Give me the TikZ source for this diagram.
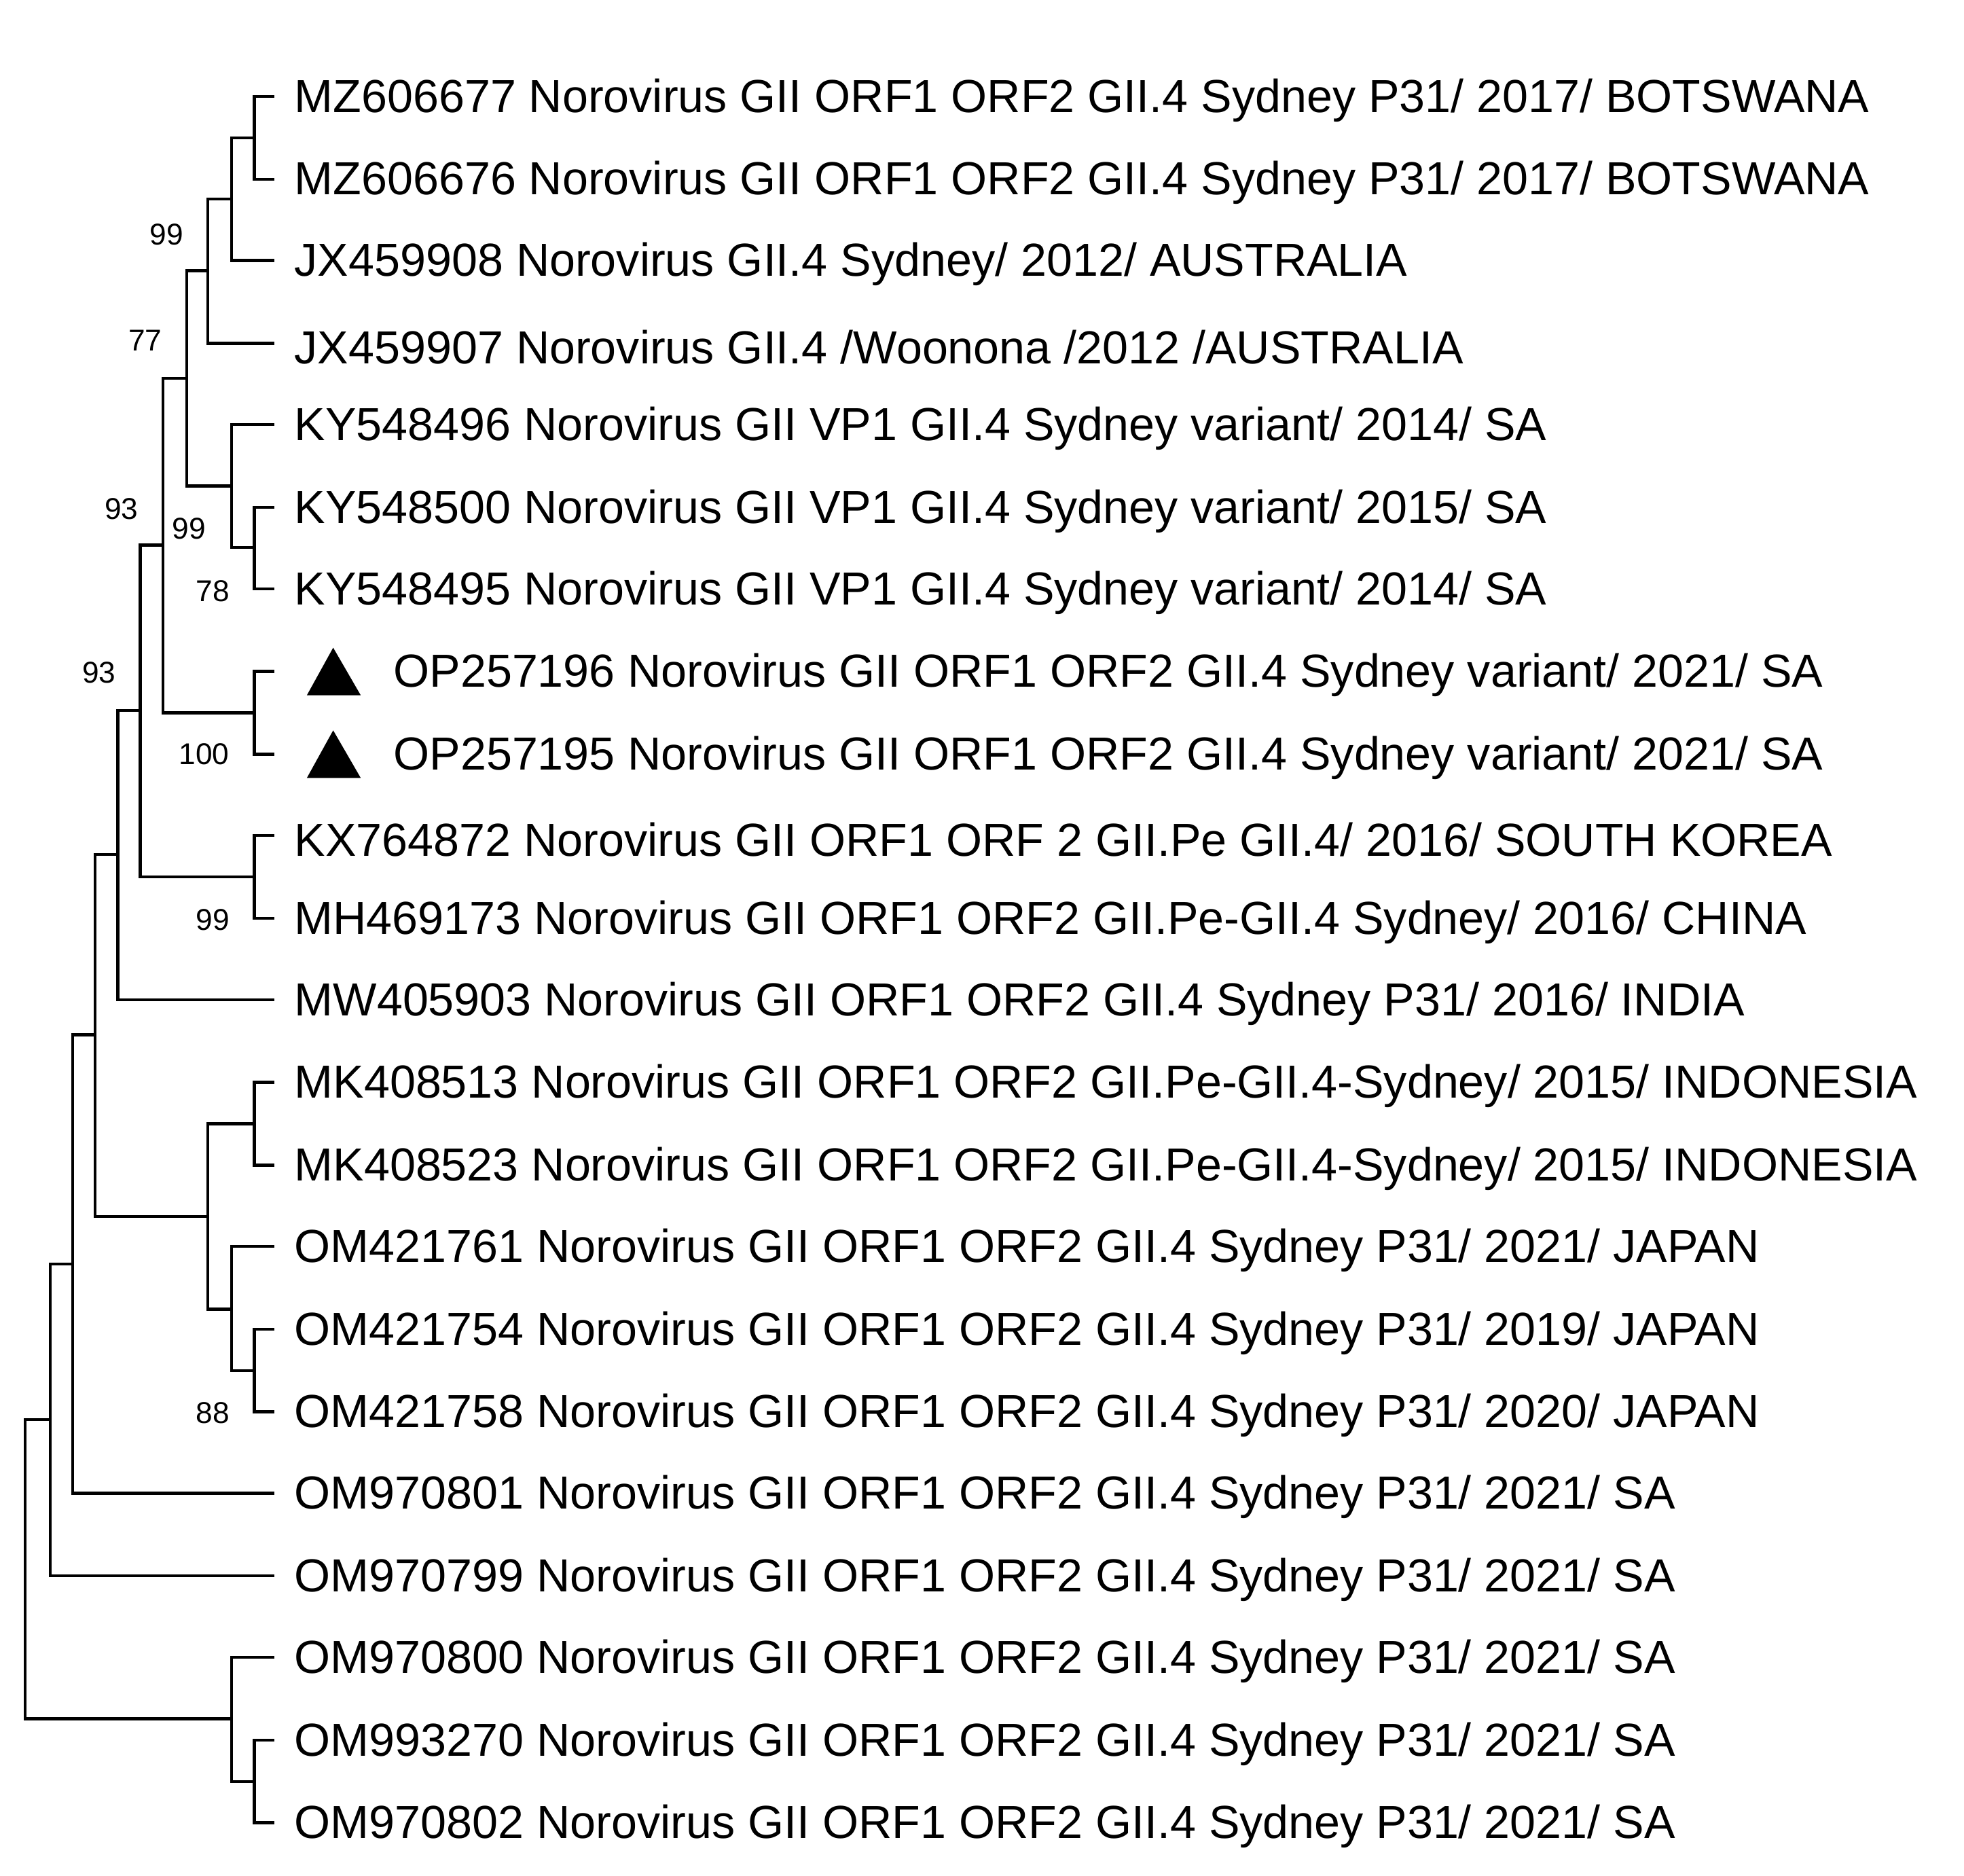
\documentclass[tikz,border=0pt]{standalone}
\usepackage{fontspec}
\setmainfont{Liberation Sans}
\begin{document}
\begin{tikzpicture}[x=1pt,y=-1pt,
  br/.style={line width=2.4pt,line cap=rect},
  leaf/.style={anchor=west,inner sep=0pt,yshift=-3pt,font=\fontsize{37}{40}\selectfont},
  bs/.style={inner sep=0pt,font=\fontsize{24}{26}\selectfont},
  tri/.style={fill=black,draw=none}]
\useasboundingbox (0,0) rectangle (1568,1497);
% leaves
\foreach \i/\y in {1/77,2/143,3/208,4/274,5/339,6/405,7/470,8/536,9/602,10/667,11/733,12/798,13/864,14/930,15/995,16/1061,17/1127,18/1192,19/1258,20/1323,21/1389,22/1455}
  \coordinate (t\i) at (218,\y);
\node[leaf] (l1) at (235,77) {MZ606677 Norovirus GII ORF1 ORF2 GII.4 Sydney P31/ 2017/ BOTSWANA};
\node[leaf] (l2) at (235,143) {MZ606676 Norovirus GII ORF1 ORF2 GII.4 Sydney P31/ 2017/ BOTSWANA};
\node[leaf] (l3) at (235,208) {JX459908 Norovirus GII.4 Sydney/ 2012/ AUSTRALIA};
\node[leaf] (l4) at (235,274) {JX459907 Norovirus GII.4 /Woonona /2012 /AUSTRALIA};
\node[leaf] (l5) at (235,339) {KY548496 Norovirus GII VP1 GII.4 Sydney variant/ 2014/ SA};
\node[leaf] (l6) at (235,405) {KY548500 Norovirus GII VP1 GII.4 Sydney variant/ 2015/ SA};
\node[leaf] (l7) at (235,470) {KY548495 Norovirus GII VP1 GII.4 Sydney variant/ 2014/ SA};
\node[leaf] (l8) at (314,536) {OP257196 Norovirus GII ORF1 ORF2 GII.4 Sydney variant/ 2021/ SA};
\node[leaf] (l9) at (314,602) {OP257195 Norovirus GII ORF1 ORF2 GII.4 Sydney variant/ 2021/ SA};
\node[leaf] (l10) at (235,667) {KX764872 Norovirus GII ORF1 ORF 2 GII.Pe GII.4/ 2016/ SOUTH KOREA};
\node[leaf] (l11) at (235,733) {MH469173 Norovirus GII ORF1 ORF2 GII.Pe-GII.4 Sydney/ 2016/ CHINA};
\node[leaf] (l12) at (235,798) {MW405903 Norovirus GII ORF1 ORF2 GII.4 Sydney P31/ 2016/ INDIA};
\node[leaf] (l13) at (235,864) {MK408513 Norovirus GII ORF1 ORF2 GII.Pe-GII.4-Sydney/ 2015/ INDONESIA};
\node[leaf] (l14) at (235,930) {MK408523 Norovirus GII ORF1 ORF2 GII.Pe-GII.4-Sydney/ 2015/ INDONESIA};
\node[leaf] (l15) at (235,995) {OM421761 Norovirus GII ORF1 ORF2 GII.4 Sydney P31/ 2021/ JAPAN};
\node[leaf] (l16) at (235,1061) {OM421754 Norovirus GII ORF1 ORF2 GII.4 Sydney P31/ 2019/ JAPAN};
\node[leaf] (l17) at (235,1127) {OM421758 Norovirus GII ORF1 ORF2 GII.4 Sydney P31/ 2020/ JAPAN};
\node[leaf] (l18) at (235,1192) {OM970801 Norovirus GII ORF1 ORF2 GII.4 Sydney P31/ 2021/ SA};
\node[leaf] (l19) at (235,1258) {OM970799 Norovirus GII ORF1 ORF2 GII.4 Sydney P31/ 2021/ SA};
\node[leaf] (l20) at (235,1323) {OM970800 Norovirus GII ORF1 ORF2 GII.4 Sydney P31/ 2021/ SA};
\node[leaf] (l21) at (235,1389) {OM993270 Norovirus GII ORF1 ORF2 GII.4 Sydney P31/ 2021/ SA};
\node[leaf] (l22) at (235,1455) {OM970802 Norovirus GII ORF1 ORF2 GII.4 Sydney P31/ 2021/ SA};
% triangles
\fill[tri] (245,555) -- (266,517) -- (288,555) -- cycle;
\fill[tri] (245,621) -- (266,583) -- (288,621) -- cycle;
% internal nodes
\coordinate (a1) at (203,110);
\coordinate (a2) at (185,159);
\coordinate (a3) at (166,216);
\coordinate (k1) at (203,437);
\coordinate (k2) at (185,388);
\coordinate (a4) at (149,302);
\coordinate (o1) at (203,569);
\coordinate (a5) at (130,435);
\coordinate (x1) at (203,700);
\coordinate (a6) at (112,567);
\coordinate (a7) at (94,682);
\coordinate (m1) at (203,897);
\coordinate (j1) at (203,1094);
\coordinate (j2) at (185,1045);
\coordinate (m2) at (166,971);
\coordinate (a8) at (76,826);
\coordinate (a9) at (58,1009);
\coordinate (a10) at (40,1133);
\coordinate (s1) at (203,1422);
\coordinate (s2) at (185,1372);
\coordinate (r) at (20,1252);
\foreach \p/\c in {a1/t1,a1/t2,a2/a1,a2/t3,a3/a2,a3/t4,k1/t6,k1/t7,k2/t5,k2/k1,a4/a3,a4/k2,
  o1/t8,o1/t9,a5/a4,a5/o1,x1/t10,x1/t11,a6/a5,a6/x1,a7/a6,a7/t12,m1/t13,m1/t14,j1/t16,j1/t17,
  j2/t15,j2/j1,m2/m1,m2/j2,a8/a7,a8/m2,a9/a8,a9/t18,a10/a9,a10/t19,s1/t21,s1/t22,s2/t20,s2/s1,r/a10,r/s2}
  \draw[br] (\p) |- (\c);
% bootstrap values
\node[bs] (b1) at (133,187) {99};
\node[bs] (b2) at (116,272) {77};
\node[bs] (b3) at (97,406) {93};
\node[bs] (b4) at (151,422) {99};
\node[bs] (b5) at (170,472) {78};
\node[bs] (b6) at (79,537) {93};
\node[bs] (b7) at (163,602) {100};
\node[bs] (b8) at (170,734) {99};
\node[bs] (b9) at (170,1128) {88};
\end{tikzpicture}
\end{document}
